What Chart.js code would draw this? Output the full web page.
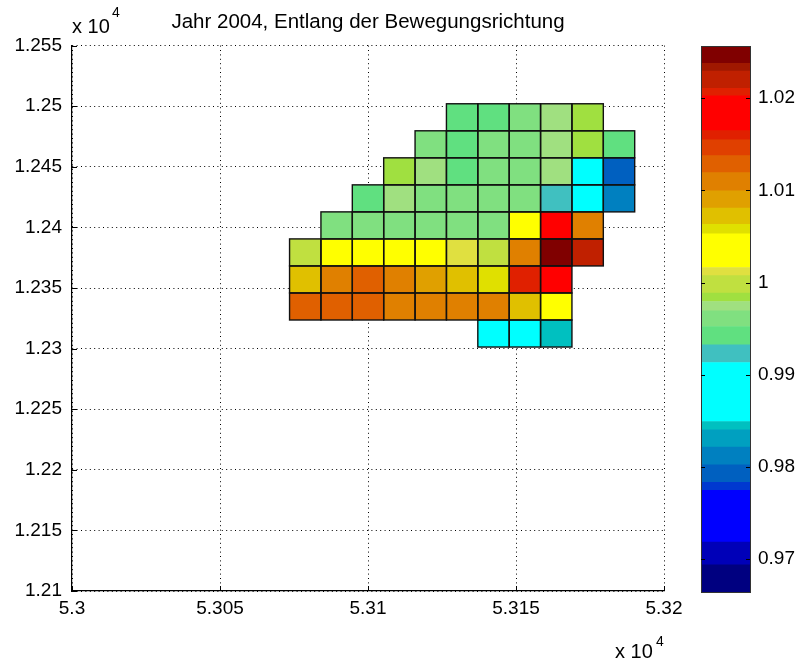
<!DOCTYPE html>
<html>
<head>
<meta charset="utf-8">
<title>Jahr 2004, Entlang der Bewegungsrichtung</title>
<script src="https://cdn.jsdelivr.net/npm/chart.js@4.4.1/dist/chart.umd.min.js"></script>
<style>
  body { margin: 0; background: #fff; }
  #wrap { position: relative; width: 799px; height: 664px; }
  #mapChart { position: absolute; left: 0; top: 0; }
  #barChart { position: absolute; left: 690px; top: 0; }
</style>
</head>
<body>
<div id="wrap">
  <canvas id="mapChart" width="690" height="664"></canvas>
  <canvas id="barChart" width="109" height="664"></canvas>
</div>
<script>
// axis ticks (labels are in units of 10^4)
const xTicks = [53000, 53050, 53100, 53150, 53200];
const xTickLabels = ['5.3', '5.305', '5.31', '5.315', '5.32'];
const yTicks = [12100, 12150, 12200, 12250, 12300, 12350, 12400, 12450, 12500, 12550];
const yTickLabels = ['1.21', '1.215', '1.22', '1.225', '1.23', '1.235', '1.24', '1.245', '1.25', '1.255'];

// cell edges of the grid (x left to right, y top to bottom)
const xEdges = [53073.5, 53084.1, 53094.7, 53105.3, 53115.9, 53126.5, 53137.1, 53147.7, 53158.3, 53168.9, 53179.5, 53190.1];
const yEdges = [12502.0, 12479.7, 12457.4, 12435.1, 12412.8, 12390.5, 12368.2, 12345.9, 12323.6, 12301.3];

// one row per y band, top row first, null = no value
const cellValues = [
  [null, null, null, null, null, 0.9942, 0.9942, 0.9961, 0.9974, 0.9984, null],
  [null, null, null, null, 0.9961, 0.9942, 0.9961, 0.9961, 0.9974, 0.9984, 0.9942],
  [null, null, null, 0.9984, 0.9974, 0.9942, 0.9961, 0.9961, 0.9974, 0.9882, 0.9793],
  [null, null, 0.9942, 0.9974, 0.9961, 0.9961, 0.9961, 0.9961, 0.9923, 0.9882, 0.9812],
  [null, 0.9961, 0.9961, 0.9961, 0.9961, 0.9961, 0.9961, 1.0034, 1.0184, 1.0109, null],
  [0.9998, 1.0034, 1.0034, 1.0034, 1.0034, 1.0012, 0.9998, 1.0109, 1.0247, 1.0220, null],
  [1.0072, 1.0109, 1.0129, 1.0109, 1.0090, 1.0072, 1.0058, 1.0160, 1.0184, null, null],
  [1.0129, 1.0129, 1.0129, 1.0109, 1.0109, 1.0109, 1.0109, 1.0072, 1.0034, null, null],
  [null, null, null, null, null, null, 0.9882, 0.9882, 0.9845, null, null]
];

// colour scale
const cbTicks = [0.97, 0.98, 0.99, 1, 1.01, 1.02];
const cbTickLabels = ['0.97', '0.98', '0.99', '1', '1.01', '1.02'];
const bandEdges = [0.96642, 0.96938, 0.97184, 0.97744, 0.97831, 0.98023, 0.98215, 0.98402, 0.98492, 0.99132,
  0.99324, 0.99523, 0.99693, 0.99794, 0.99885, 1.00076, 1.00163, 1.00528, 1.00633, 1.00807,
  1.00995, 1.01193, 1.01377, 1.01548, 1.01649, 1.02025, 1.02108, 1.02296, 1.02380, 1.02567];
const bandColors = ['#000080', '#0000B8', '#0000FF', '#0038D0', '#0060C0', '#0080C0', '#00A0C0', '#00C0C0', '#00FFFF',
  '#40C0C0', '#60E080', '#80E080', '#A0E080', '#A0E040', '#C0E040', '#E0E040', '#FFFF00', '#E0E000',
  '#E0C000', '#E0A000', '#E08000', '#E06000', '#E04000', '#E02000', '#FF0000', '#E02000', '#C02000',
  '#A01800', '#800000'];

const FONT = '"Liberation Sans", Arial, sans-serif';
Chart.defaults.font.family = FONT;
Chart.defaults.color = '#000';

function colorFor(v) {
  for (let i = 0; i < bandColors.length; i++) {
    if (v < bandEdges[i + 1]) return bandColors[i];
  }
  return bandColors[bandColors.length - 1];
}

// flatten the grid into points carrying their cell bounds
const cells = [];
cellValues.forEach((row, r) => {
  row.forEach((v, c) => {
    if (v === null) return;
    cells.push({
      x: (xEdges[c] + xEdges[c + 1]) / 2,
      y: (yEdges[r] + yEdges[r + 1]) / 2,
      x0: xEdges[c], x1: xEdges[c + 1],
      y0: yEdges[r + 1], y1: yEdges[r],
      v: v
    });
  });
});

// paints each cell as a filled rectangle using the chart scales
const cellLayer = {
  id: 'cellLayer',
  beforeDatasetsDraw(chart) {
    const { ctx, scales: { x, y } } = chart;
    const pts = chart.data.datasets[0].data;
    ctx.save();
    pts.forEach(p => {
      const l = x.getPixelForValue(p.x0), r = x.getPixelForValue(p.x1);
      const t = y.getPixelForValue(p.y1), b = y.getPixelForValue(p.y0);
      ctx.fillStyle = colorFor(p.v);
      ctx.fillRect(l, t, r - l, b - t);
    });
    ctx.lineWidth = 1.4;
    ctx.strokeStyle = '#111';
    pts.forEach(p => {
      const l = x.getPixelForValue(p.x0), r = x.getPixelForValue(p.x1);
      const t = y.getPixelForValue(p.y1), b = y.getPixelForValue(p.y0);
      ctx.strokeRect(l, t, r - l, b - t);
    });
    ctx.restore();
  }
};

// inward tick marks and the "x 10^4" multipliers
const axisDecor = {
  id: 'axisDecor',
  afterDraw(chart) {
    const { ctx, chartArea: a, scales: { x, y } } = chart;
    ctx.save();
    ctx.strokeStyle = '#000';
    ctx.lineWidth = 1;
    ctx.beginPath();
    yTicks.forEach(v => {
      const py = Math.round(y.getPixelForValue(v)) + 0.5;
      ctx.moveTo(a.left, py); ctx.lineTo(a.left + 5, py);
    });
    xTicks.forEach(v => {
      const px = Math.round(x.getPixelForValue(v)) + 0.5;
      ctx.moveTo(px, a.bottom); ctx.lineTo(px, a.bottom - 5);
    });
    ctx.stroke();

    ctx.fillStyle = '#000';
    ctx.textBaseline = 'alphabetic';
    ctx.textAlign = 'left';
    ctx.font = '20px ' + FONT;
    ctx.fillText('x 10', 72, 33);
    ctx.fillText('x 10', 615, 658);
    ctx.font = '14px ' + FONT;
    ctx.fillText('4', 112, 17);
    ctx.fillText('4', 656, 646);
    ctx.restore();
  }
};

new Chart(document.getElementById('mapChart'), {
  type: 'scatter',
  data: {
    datasets: [{ data: cells, pointRadius: 0, pointHoverRadius: 0 }]
  },
  options: {
    responsive: false,
    animation: false,
    layout: { padding: { left: 0, top: 0, right: 26, bottom: 0 } },
    plugins: {
      legend: { display: false },
      tooltip: { enabled: false },
      title: {
        display: true,
        fullSize: false,
        text: 'Jahr 2004, Entlang der Bewegungsrichtung',
        color: '#000',
        font: { size: 20.5, weight: 'normal', family: FONT },
        padding: { top: 10, bottom: 11 }
      }
    },
    scales: {
      x: {
        type: 'linear',
        min: 53000,
        max: 53200,
        afterBuildTicks: s => { s.ticks = xTicks.map(v => ({ value: v })); },
        afterFit: s => { s.height = 73; },
        ticks: {
          font: { size: 19 },
          padding: 6,
          maxRotation: 0,
          callback: v => xTickLabels[xTicks.indexOf(v)]
        },
        grid: { color: '#000', lineWidth: 1, drawTicks: false },
        border: { display: true, color: '#000', width: 1.2, dash: [1, 3.4] }
      },
      y: {
        type: 'linear',
        min: 12100,
        max: 12550,
        afterBuildTicks: s => { s.ticks = yTicks.map(v => ({ value: v })); },
        afterFit: s => { s.width = 72; },
        ticks: {
          font: { size: 19 },
          padding: 10,
          callback: v => yTickLabels[yTicks.indexOf(v)]
        },
        grid: { color: '#000', lineWidth: 1, drawTicks: false },
        border: { display: true, color: '#000', width: 1.2, dash: [1, 3.4] }
      }
    }
  },
  plugins: [cellLayer, axisDecor]
});

// colour bar: one floating bar per colour band
const barFrame = {
  id: 'barFrame',
  afterDraw(chart) {
    const { ctx, chartArea: a, scales: { y } } = chart;
    ctx.save();
    ctx.strokeStyle = '#333';
    ctx.lineWidth = 1;
    ctx.strokeRect(Math.round(a.left) + 0.5, Math.round(a.top) + 0.5,
      Math.round(a.right - a.left), Math.round(a.bottom - a.top));
    ctx.strokeStyle = '#000';
    ctx.beginPath();
    cbTicks.forEach(v => {
      const py = Math.round(y.getPixelForValue(v)) + 0.5;
      ctx.moveTo(a.left, py); ctx.lineTo(a.left + 4, py);
      ctx.moveTo(a.right, py); ctx.lineTo(a.right - 4, py);
    });
    ctx.stroke();
    ctx.restore();
  }
};

new Chart(document.getElementById('barChart'), {
  type: 'bar',
  data: {
    labels: [''],
    datasets: bandColors.map((c, i) => ({
      data: [[bandEdges[i], bandEdges[i + 1]]],
      backgroundColor: c,
      borderWidth: 0,
      grouped: false,
      barPercentage: 1,
      categoryPercentage: 1
    }))
  },
  options: {
    responsive: false,
    animation: false,
    layout: { padding: { left: 11, top: 46, right: 0, bottom: 72 } },
    plugins: { legend: { display: false }, tooltip: { enabled: false } },
    scales: {
      x: { display: false },
      y: {
        position: 'right',
        min: bandEdges[0],
        max: bandEdges[bandEdges.length - 1],
        afterBuildTicks: s => { s.ticks = cbTicks.map(v => ({ value: v })); },
        afterFit: s => { s.width = 49; },
        ticks: {
          font: { size: 19 },
          padding: 8,
          callback: v => cbTickLabels[cbTicks.indexOf(v)]
        },
        grid: { display: false, drawTicks: false },
        border: { display: false }
      }
    }
  },
  plugins: [barFrame]
});
</script>
</body>
</html>
